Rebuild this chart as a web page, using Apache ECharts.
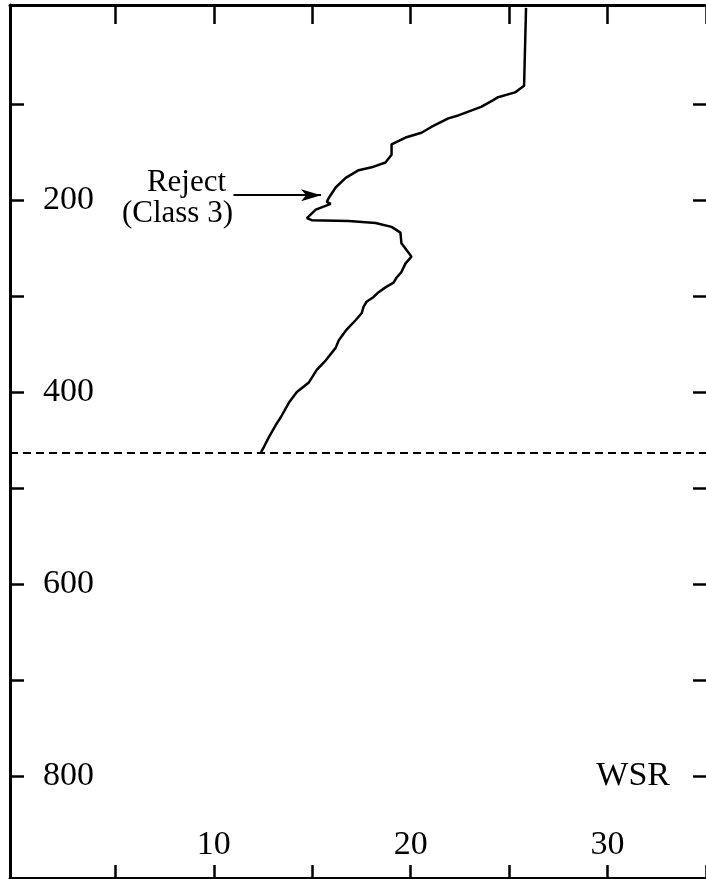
<!DOCTYPE html>
<html>
<head>
<meta charset="utf-8">
<script src="https://cdn.jsdelivr.net/npm/echarts@6/dist/echarts.min.js"></script>
<style>
  html, body { margin: 0; padding: 0; background: #fff; }
  #chart { width: 706px; height: 879px; }
</style>
</head>
<body>
<div id="chart"></div>
<script>
// WSR profile against depth (depth increases downward)
const wsr = [25.86, 25.76, 25.30, 24.44, 24.19, 23.58, 22.42, 21.91, 21.05, 20.55,
  19.74, 19.03, 19.03, 18.72, 18.02, 17.36, 16.70, 16.19, 15.84, 15.74,
  15.94, 15.18, 14.73, 14.98, 16.85, 18.22, 19.03, 19.48, 19.53, 19.79,
  20.04, 19.74, 19.53, 19.28, 19.13, 18.72, 18.37, 18.12, 17.76, 17.61,
  17.51, 17.21, 16.75, 16.35, 16.19, 15.69, 15.23, 14.83, 14.22, 13.82,
  13.41, 13.16, 12.80, 12.55, 12.40];
const depth = [0, 81, 88, 93, 96, 103, 112, 115, 124, 130,
  135, 142, 153, 161, 166, 169, 177, 187, 198, 202,
  204, 210, 219, 221, 222, 224, 228, 234, 245, 252,
  259, 266, 275, 281, 286, 291, 296, 301, 306, 311,
  318, 325, 335, 346, 354, 367, 377, 390, 400, 411,
  426, 434, 447, 457, 462.5];

const xTicks = [5, 10, 15, 20, 25, 30, 35];
const xLabels = [10, 20, 30];
const yTicks = [100, 200, 300, 400, 500, 600, 700, 800];
const yLabels = [200, 400, 600, 800];

const cutoffDepth = 463;           // dashed horizontal level
const rejectArrow = [[11.0, 195], [15.45, 195]];   // annotation arrow tail -> head
const rejectText = ['Reject', '(Class 3)'];
const axisTitle = 'WSR';

const FONT = '"Liberation Serif", "Times New Roman", serif';
const black = '#000';

const chart = echarts.init(document.getElementById('chart'), null, { renderer: 'canvas' });

const baseX = {
  type: 'value', min: -0.35, max: 35.0,
  splitLine: { show: false },
  axisLine: { show: true, onZero: false, lineStyle: { color: black, width: 3 } }
};
const baseY = {
  type: 'value', inverse: true, min: -3, max: 906,
  splitLine: { show: false },
  axisLine: { show: true, onZero: false, lineStyle: { color: black, width: 3 } }
};

chart.setOption({
  animation: false,
  backgroundColor: '#fff',
  grid: { left: 10, right: -3, top: 5, bottom: 1, containLabel: false },
  xAxis: [
    Object.assign({}, baseX, {
      position: 'bottom',
      axisTick: { show: true, inside: true, length: 13, customValues: xTicks, lineStyle: { color: black, width: 2.5 } },
      axisLabel: { show: true, inside: true, margin: 16, customValues: xLabels,
        color: black, fontFamily: FONT, fontSize: 34 }
    }),
    Object.assign({}, baseX, {
      position: 'top',
      axisTick: { show: true, inside: true, length: 19, customValues: xTicks, lineStyle: { color: black, width: 2.5 } },
      axisLabel: { show: false }
    })
  ],
  yAxis: [
    Object.assign({}, baseY, {
      position: 'left',
      axisTick: { show: true, inside: true, length: 14, customValues: yTicks, lineStyle: { color: black, width: 2.5 } },
      axisLabel: { show: true, inside: true, margin: 33, customValues: yLabels,
        color: black, fontFamily: FONT, fontSize: 34 }
    }),
    Object.assign({}, baseY, {
      position: 'right',
      // the right frame edge lies just past the drawing area; only its ticks show
      axisLine: { show: true, onZero: false, lineStyle: { color: 'rgba(0,0,0,0)', width: 0 } },
      axisTick: { show: true, inside: true, length: 13, customValues: yTicks, lineStyle: { color: black, width: 2.5 } },
      axisLabel: { show: false }
    })
  ],
  series: [
    {
      type: 'line',
      xAxisIndex: 0, yAxisIndex: 0,
      data: wsr.map((v, i) => [v, depth[i]]),
      showSymbol: false,
      symbol: 'none',
      lineStyle: { color: black, width: 2.5 },
      markLine: {
        silent: true,
        animation: false,
        symbol: ['none', 'none'],
        label: { show: false },
        lineStyle: { color: black, width: 2, type: [8, 5] },
        data: [{ yAxis: cutoffDepth }]
      },
      z: 3
    },
    {
      type: 'line',
      xAxisIndex: 0, yAxisIndex: 0,
      data: [],
      markLine: {
        silent: true,
        animation: false,
        symbol: ['none', 'arrow'],
        symbolSize: [9, 20],
        label: { show: false },
        lineStyle: { color: black, width: 2, type: 'solid' },
        data: [[{ coord: rejectArrow[0] }, { coord: rejectArrow[1] }]]
      }
    }
  ]
});

// annotation texts placed relative to the arrow tail and the 800 level
const tail = chart.convertToPixel({ xAxisIndex: 0, yAxisIndex: 0 }, rejectArrow[0]);
const wsrPos = chart.convertToPixel({ xAxisIndex: 0, yAxisIndex: 0 }, [31.3, 800]);
chart.setOption({
  graphic: [
    { type: 'text', x: tail[0] - 47, y: tail[1] - 12,
      style: { text: rejectText[0], fill: black, font: '31px ' + FONT, textAlign: 'center', textVerticalAlign: 'middle' } },
    { type: 'text', x: tail[0] - 56, y: tail[1] + 19,
      style: { text: rejectText[1], fill: black, font: '31px ' + FONT, textAlign: 'center', textVerticalAlign: 'middle' } },
    { type: 'text', x: wsrPos[0], y: wsrPos[1],
      style: { text: axisTitle, fill: black, font: '34px ' + FONT, textAlign: 'center', textVerticalAlign: 'middle' } }
  ]
});
</script>
</body>
</html>
